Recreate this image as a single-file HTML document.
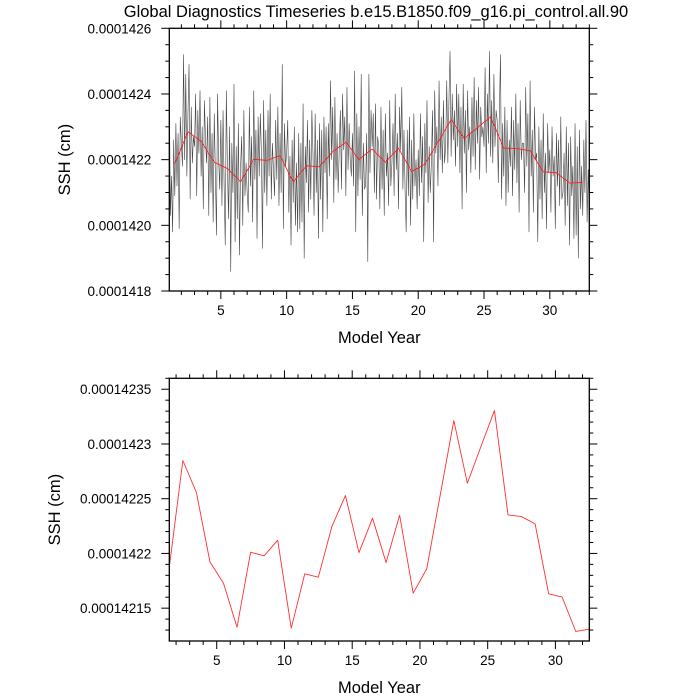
<!DOCTYPE html>
<html><head><meta charset="utf-8"><style>
body{margin:0;background:#fff;}
svg{display:block;font-family:"Liberation Sans",Arial,sans-serif;}
</style></head><body>
<svg id="chart" width="700" height="700" viewBox="0 0 700 700">
<rect width="700" height="700" fill="#fff"/>
<text x="376" y="17" font-size="16.5" text-anchor="middle">Global Diagnostics Timeseries b.e15.B1850.f09_g16.pi_control.all.90</text>
<g id="top"></g>
<g id="bot"></g>
</svg>
<script>
const annualYears = [1.5,2.5,3.5,4.5,5.5,6.5,7.5,8.5,9.5,10.5,11.5,12.5,13.5,14.5,15.5,16.5,17.5,18.5,19.5,20.5,21.5,22.5,23.5,24.5,25.5,26.5,27.5,28.5,29.5,30.5,31.5,32.5];
const annualSSH = [1421.874,1422.849,1422.557,1421.923,1421.728,1421.326,1422.011,1421.978,1422.121,1421.317,1421.814,1421.783,1422.246,1422.529,1422.008,1422.322,1421.917,1422.349,1421.637,1421.859,1422.535,1423.214,1422.642,1422.976,1423.305,1422.352,1422.337,1422.270,1421.631,1421.601,1421.287,1421.308];
const monthlySSH = [
1424.0,1420.3,1421.5,1419.8,1422.6,1420.9,1423.1,1421.2,1422.8,1419.9,1423.3,1422.5,
1421.8,1425.2,1422.0,1424.6,1421.5,1423.4,1424.9,1420.8,1423.6,1421.9,1422.7,1422.4,
1424.0,1420.9,1423.5,1422.2,1424.1,1421.5,1423.0,1420.5,1423.8,1422.6,1421.9,1423.3,
1420.3,1423.9,1421.0,1422.8,1420.1,1423.4,1421.6,1419.7,1424.0,1422.0,1421.1,1423.2,
1420.6,1423.5,1421.2,1419.4,1424.1,1421.8,1420.2,1423.0,1418.6,1422.5,1421.0,1424.3,
1419.5,1422.4,1420.2,1423.1,1419.1,1421.8,1422.7,1420.0,1423.5,1420.9,1421.9,1421.0,
1420.4,1423.6,1421.2,1422.7,1420.1,1424.1,1421.4,1422.9,1419.6,1423.3,1421.5,1423.4,
1422.2,1419.3,1423.8,1421.0,1422.9,1420.6,1423.5,1421.5,1424.0,1420.8,1422.5,1421.7,
1420.9,1423.2,1421.4,1423.6,1420.6,1422.8,1421.0,1424.9,1419.9,1423.1,1421.8,1422.2,
1423.2,1420.4,1422.1,1419.4,1422.6,1420.7,1423.0,1420.0,1421.9,1419.8,1422.8,1419.9,
1422.5,1420.1,1423.7,1419.0,1422.4,1421.3,1423.2,1420.4,1422.6,1420.8,1423.5,1422.2,
1420.3,1423.4,1421.0,1422.6,1419.6,1423.1,1420.8,1422.9,1419.8,1423.3,1421.6,1423.0,
1420.2,1423.1,1421.5,1424.4,1422.0,1423.6,1420.7,1423.9,1421.4,1422.8,1421.0,1422.4,
1423.5,1421.1,1424.0,1422.3,1423.3,1420.9,1424.2,1421.7,1423.1,1422.0,1421.5,1422.8,
1421.2,1424.7,1419.8,1423.4,1420.9,1423.0,1421.4,1424.6,1420.3,1422.5,1421.1,1421.2,
1422.8,1418.9,1424.6,1421.6,1423.5,1422.4,1423.4,1421.0,1423.7,1420.8,1422.7,1422.4,
1420.5,1423.6,1421.1,1422.9,1420.3,1423.4,1421.5,1422.2,1420.6,1423.8,1421.2,1421.9,
1423.1,1420.9,1424.0,1421.7,1422.8,1420.5,1423.6,1422.3,1424.2,1421.1,1422.9,1421.1,
1419.8,1422.9,1420.9,1423.3,1420.0,1422.6,1420.8,1423.4,1421.2,1422.0,1420.5,1422.3,
1420.9,1423.4,1421.3,1422.7,1419.5,1423.1,1421.6,1423.8,1420.7,1422.4,1421.0,1421.9,
1423.5,1419.5,1424.1,1422.2,1423.0,1421.2,1424.4,1422.0,1423.3,1421.6,1423.8,1421.9,
1422.4,1424.4,1421.9,1423.8,1425.3,1422.1,1424.0,1422.6,1423.5,1421.8,1424.3,1422.4,
1424.0,1421.6,1423.6,1420.5,1424.3,1422.2,1423.5,1421.0,1424.1,1422.3,1423.0,1421.6,
1423.9,1422.1,1424.5,1421.7,1423.8,1422.5,1424.2,1421.4,1423.6,1422.7,1423.0,1422.4,
1424.8,1421.6,1424.0,1422.5,1425.3,1422.1,1423.8,1421.9,1424.6,1422.4,1423.5,1423.2,
1421.3,1423.5,1425.2,1420.8,1423.1,1421.5,1423.6,1420.6,1423.2,1421.0,1422.6,1421.8,
1423.6,1420.9,1423.2,1421.7,1424.0,1421.3,1423.1,1420.4,1423.8,1422.0,1422.5,1422.5,
1421.0,1424.2,1421.8,1423.4,1419.8,1424.4,1421.5,1422.9,1420.4,1423.6,1422.0,1422.2,
1419.5,1423.0,1420.8,1422.6,1420.2,1423.4,1421.0,1422.2,1419.9,1423.1,1421.6,1422.3,
1420.4,1423.0,1421.5,1422.1,1419.9,1422.8,1421.2,1422.6,1420.6,1423.3,1420.8,1421.0,
1422.2,1420.0,1423.0,1420.6,1422.5,1419.4,1422.7,1420.9,1421.8,1419.6,1423.1,1419.7,
1422.4,1419.0,1422.9,1420.5,1421.8,1420.3,1422.6,1421.0,1423.2,1420.1,1421.7,1420.2];
const topYTicks = [1418,1420,1422,1424,1426];
const topYLabels = ["0.0001418","0.0001420","0.0001422","0.0001424","0.0001426"];
const botYTicks = [1421.5,1422.0,1422.5,1423.0,1423.5];
const botYLabels = ["0.00014215","0.0001422","0.00014225","0.0001423","0.00014235"];
const xTicks = [5,10,15,20,25,30];

const NS="http://www.w3.org/2000/svg";
function mk(parent,tag,attrs){const e=document.createElementNS(NS,tag);for(const k in attrs)e.setAttribute(k,attrs[k]);parent.appendChild(e);return e;}

function panel(g,o){
  const sx=v=>o.L+(v-o.x0)/(o.x1-o.x0)*(o.R-o.L);
  const sy=v=>o.B-(v-o.y0)/(o.y1-o.y0)*(o.B-o.T);
  const maj=8, mnr=4;
  for(let yr=Math.ceil(o.x0);yr<=o.x1;yr++){
    const x=sx(yr), len=(yr%5===0)?maj:mnr;
    const t1=mk(g,'line',{x1:x,y1:o.B,x2:x,y2:o.B+len,stroke:'#000','stroke-width':1});
    
    
    const t2=mk(g,'line',{x1:x,y1:o.T,x2:x,y2:o.T-len,stroke:'#000','stroke-width':1});
    
    
  }
  xTicks.forEach(v=>{
    const t=mk(g,'text',{x:sx(v),y:o.B+24,'font-size':13.5,'text-anchor':'middle'});
    t.textContent=v;
    
    
  });
  const step=o.minorStep;
  for(let v=o.ymStart; v<=o.y1+1e-9; v+=step){
    const vv=Math.round(v*1000)/1000;
    const isMaj=o.yTicks.some(m=>Math.abs(m-vv)<1e-6);
    const y=sy(vv), len=isMaj?maj:mnr;
    const a=mk(g,'line',{x1:o.L,y1:y,x2:o.L-len,y2:y,stroke:'#000','stroke-width':1});
    
    
    const b=mk(g,'line',{x1:o.R,y1:y,x2:o.R+len,y2:y,stroke:'#000','stroke-width':1});
    
    
  }
  o.yTicks.forEach((v,i)=>{
    const t=mk(g,'text',{x:o.L-18,y:sy(v)+5,'font-size':13.5,'text-anchor':'end'});
    t.textContent=o.yLabels[i];
    
    
  });
  const yl=mk(g,'text',{x:0,y:0,'font-size':16.5,'text-anchor':'middle',transform:`translate(${o.ylx},${(o.T+o.B)/2}) rotate(-90)`});
  yl.textContent='SSH (cm)';
  
  
  const xl=mk(g,'text',{x:(o.L+o.R)/2,y:o.B+52,'font-size':16.5,'text-anchor':'middle'});
  xl.textContent='Model Year';
  
  
  o.series.forEach(s=>{
    const d=s.xs.map((x,i)=>(i?'L':'M')+sx(x).toFixed(2)+' '+sy(s.ys[i]).toFixed(2)).join(' ');
    const p=mk(g,'path',{d:d,fill:'none',stroke:s.color,'stroke-width':s.w,'stroke-linejoin':'round'});
    
    
  });
  const fr=mk(g,'rect',{x:o.L,y:o.T,width:o.R-o.L,height:o.B-o.T,fill:'none',stroke:'#000','stroke-width':1.3});
  
  
}
const monthX = monthlySSH.map((v,i)=>1+(i+1)/12);
panel(document.getElementById('top'),{L:169.3,R:589.3,T:28.3,B:291,x0:1.083,x1:33,y0:1418,y1:1426,
  yTicks:topYTicks,yLabels:topYLabels,minorStep:0.5,ymStart:1418,ylx:70,
  series:[{xs:monthX,ys:monthlySSH,color:'#444',w:0.6,name:'monthly-ssh-line'},
          {xs:annualYears,ys:annualSSH,color:'#ff2020',w:0.9,name:'annual-mean-line-top'}]});
panel(document.getElementById('bot'),{L:169.3,R:589.3,T:378.3,B:641,x0:1.5,x1:32.5,y0:1421.20,y1:1423.60,
  yTicks:botYTicks,yLabels:botYLabels,minorStep:0.1,ymStart:1421.3,ylx:60,
  series:[{xs:annualYears,ys:annualSSH,color:'#ff3030',w:0.9,name:'annual-mean-line'}]});
</script>
</body></html>
